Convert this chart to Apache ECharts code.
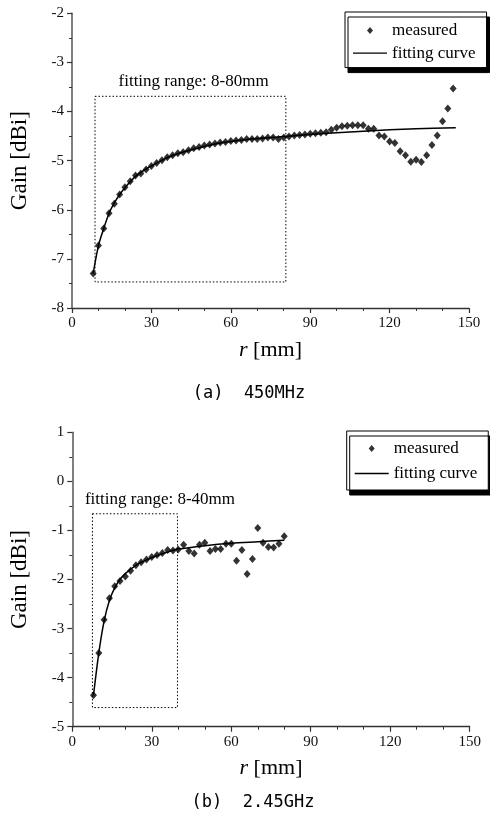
<!DOCTYPE html>
<html>
<head>
<meta charset="utf-8">
<script src="https://cdn.jsdelivr.net/npm/echarts@6/dist/echarts.min.js"></script>
<style>html,body{margin:0;padding:0;background:#fff}#c{width:490px;height:819px}</style>
</head>
<body>
<div id="c"></div>
<script>
// ---- (a) 450 MHz ----
const r450 = [8,10,12,14,16,18,20,22,24,26,28,30,32,34,36,38,40,42,44,46,48,50,52,54,56,58,60,62,64,66,68,70,72,74,76,78,80,82,84,86,88,90,92,94,96,98,100,102,104,106,108,110,112,114,116,118,120,122,124,126,128,130,132,134,136,138,140,142,144];
const gain450 = [-7.30,-6.73,-6.38,-6.07,-5.88,-5.69,-5.54,-5.42,-5.30,-5.26,-5.18,-5.11,-5.05,-4.99,-4.93,-4.89,-4.85,-4.83,-4.79,-4.75,-4.72,-4.69,-4.67,-4.65,-4.63,-4.62,-4.60,-4.59,-4.58,-4.56,-4.56,-4.56,-4.55,-4.53,-4.53,-4.56,-4.53,-4.51,-4.49,-4.48,-4.47,-4.45,-4.44,-4.43,-4.42,-4.37,-4.33,-4.30,-4.29,-4.28,-4.28,-4.28,-4.35,-4.35,-4.49,-4.51,-4.61,-4.64,-4.81,-4.89,-5.02,-4.98,-5.03,-4.89,-4.68,-4.49,-4.20,-3.94,-3.53];
const fitR450 = [8,10,12,14,16,18,20,24,28,32,36,40,45,50,55,60,70,80,90,100,110,120,130,145];
const fitG450 = [-7.30,-6.73,-6.38,-6.07,-5.86,-5.69,-5.55,-5.32,-5.17,-5.05,-4.94,-4.86,-4.78,-4.71,-4.65,-4.61,-4.55,-4.51,-4.47,-4.43,-4.40,-4.37,-4.35,-4.33];
const box450 = [[8.7,-3.69],[80.8,-7.47]];
// ---- (b) 2.45 GHz ----
const r245 = [8,10,12,14,16,18,20,22,24,26,28,30,32,34,36,38,40,42,44,46,48,50,52,54,56,58,60,62,64,66,68,70,72,74,76,78,80];
const gain245 = [-4.36,-3.50,-2.82,-2.38,-2.14,-2.03,-1.94,-1.82,-1.71,-1.65,-1.59,-1.54,-1.50,-1.46,-1.40,-1.41,-1.39,-1.29,-1.42,-1.47,-1.29,-1.25,-1.42,-1.38,-1.38,-1.27,-1.27,-1.62,-1.40,-1.89,-1.58,-0.95,-1.25,-1.34,-1.35,-1.27,-1.12];
const fitR245 = [8,10,12,14,16,18,20,24,28,32,36,40,50,60,70,80];
const fitG245 = [-4.36,-3.50,-2.85,-2.43,-2.17,-2.00,-1.88,-1.71,-1.60,-1.51,-1.44,-1.38,-1.31,-1.26,-1.23,-1.20];
const box245 = [[7.6,-0.66],[39.7,-4.61]];
// ---- axis ticks / labels ----
const xTicks = {min:0, max:150, interval:30};
const yTicksA = {min:-8, max:-2, interval:1};
const yTicksB = {min:-5, max:1, interval:1};
const legendNames = ['measured','fitting curve'];
const boxLabelA = 'fitting range: 8-80mm';
const boxLabelB = 'fitting range: 8-40mm';
const captionA = '(a)  450MHz';
const captionB = '(b)  2.45GHz';

const serif = 'Liberation Serif';
const pairs = (xs, ys) => xs.map((x,i)=>[x, ys[i]]);

// legend icons: bounding box exactly 34x7 (tiny invisible corner subpaths), so nothing is stretched
const ICON_DIAMOND = 'path://M0,0L0.01,0L0,0.01Z M17,0L20,3.5L17,7L14,3.5Z M34,7L33.99,7L34,6.99Z';
const ICON_LINE = 'path://M0,0L0.01,0L0,0.01Z M0,2.8L34,2.8L34,4.2L0,4.2Z M34,7L33.99,7L34,6.99Z';

function xAxis(gi){
  return {
    type:'value', gridIndex:gi, min:xTicks.min, max:xTicks.max, interval:xTicks.interval,
    name:'{i|r} [mm]', nameLocation:'middle', nameGap:31,
    nameTextStyle:{fontFamily:serif, fontSize:22, color:'#000',
      rich:{i:{fontFamily:serif, fontSize:22, fontStyle:'italic', color:'#000'}}},
    axisLine:{show:true, onZero:false, lineStyle:{color:'#333', width:1.3}},
    axisTick:{show:true, inside:false, length:5, lineStyle:{color:'#333', width:1.2}},
    minorTick:{show:true, splitNumber:3, length:3, lineStyle:{color:'#333', width:1}},
    axisLabel:{fontFamily:serif, fontSize:15, color:'#111', margin:8},
    splitLine:{show:false}, minorSplitLine:{show:false}
  };
}
function yAxis(gi, t){
  return {
    type:'value', gridIndex:gi, min:t.min, max:t.max, interval:t.interval,
    name:'Gain [dBi]', nameLocation:'middle', nameRotate:90, nameGap:41,
    nameTextStyle:{fontFamily:serif, fontSize:23, color:'#000'},
    axisLine:{show:true, onZero:false, lineStyle:{color:'#555', width:1.5}},
    axisTick:{show:true, inside:false, length:5, lineStyle:{color:'#333', width:1.2}},
    minorTick:{show:true, splitNumber:2, length:3, lineStyle:{color:'#333', width:1}},
    axisLabel:{fontFamily:serif, fontSize:15, color:'#111', margin:8},
    splitLine:{show:false}, minorSplitLine:{show:false}
  };
}
function boxArea(b, label, pos){
  return {
    silent:true,
    itemStyle:{color:'rgba(0,0,0,0)', borderColor:'#000', borderWidth:1, borderType:[1.5,2]},
    label:{show:true, position:pos, align:'left', verticalAlign:'bottom',
      formatter:label, fontFamily:serif, fontSize:17, color:'#000'},
    data:[[{coord:b[0]},{coord:b[1]}]]
  };
}
function fitSeries(gi, xs, ys, b, label, pos){
  return {
    name:'fitting curve', type:'line', xAxisIndex:gi, yAxisIndex:gi,
    data:pairs(xs, ys), smooth:0.3, symbol:'none', showSymbol:false,
    lineStyle:{color:'#000', width:1.5}, itemStyle:{color:'#000'},
    markArea:boxArea(b, label, pos), z:2
  };
}
function measSeries(gi, xs, ys){
  return {
    name:'measured', type:'scatter', xAxisIndex:gi, yAxisIndex:gi,
    data:pairs(xs, ys), symbol:'diamond', symbolSize:[7,8],
    itemStyle:{color:'#000'}, z:3
  };
}
function legend(left, top, gap, pad){
  return {
    data:[{name:legendNames[0], icon:ICON_DIAMOND}, {name:legendNames[1], icon:ICON_LINE}],
    orient:'vertical', left:left, top:top,
    itemWidth:34, itemHeight:7, itemGap:gap, padding:pad,
    itemStyle:{borderWidth:0}, lineStyle:{width:0},
    backgroundColor:'#fff', borderColor:'#000', borderWidth:1, borderRadius:0,
    shadowColor:'#000', shadowBlur:0, shadowOffsetX:3, shadowOffsetY:5,
    textStyle:{fontFamily:serif, fontSize:17, color:'#000'},
    selectedMode:false
  };
}

const chart = echarts.init(document.getElementById('c'), null, {renderer:'canvas'});
chart.setOption({
  backgroundColor:'#fff',
  animation:false,
  grid:[
    {left:71, top:13.3, width:398, height:294.7},
    {left:72.3, top:432.3, width:397.4, height:294.4}
  ],
  xAxis:[xAxis(0), xAxis(1)],
  yAxis:[yAxis(0, yTicksA), yAxis(1, yTicksB)],
  legend:[legend(345, 12, 5.6, [10,11,6,8]), legend(346.7, 431, 8, [9,11,8,8])],
  series:[
    fitSeries(0, fitR450, fitG450, box450, boxLabelA, [24,-6]),
    measSeries(0, r450, gain450),
    fitSeries(1, fitR245, fitG245, box245, boxLabelB, [-7,-5]),
    measSeries(1, r245, gain245)
  ],
  graphic:[
    {type:'text', x:249, y:394, style:{text:captionA, font:'17px "DejaVu Sans Mono"', fill:'#000', textAlign:'center', textVerticalAlign:'middle'}},
    {type:'text', x:253, y:803, style:{text:captionB, font:'17px "DejaVu Sans Mono"', fill:'#000', textAlign:'center', textVerticalAlign:'middle'}}
  ]
});
</script>
</body>
</html>
